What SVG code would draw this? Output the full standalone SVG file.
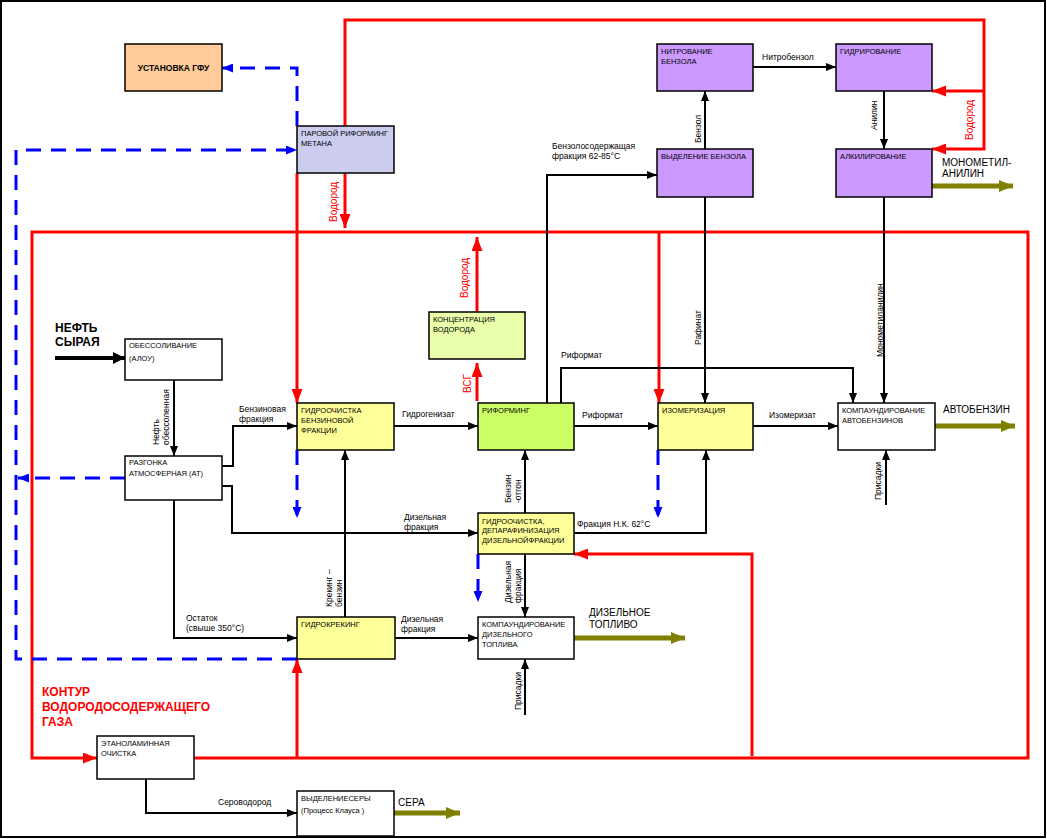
<svg xmlns="http://www.w3.org/2000/svg" width="1047" height="839" viewBox="0 0 1047 839">
<style>
text{font-family:"Liberation Sans",Arial,sans-serif;}
.box{stroke:#000;stroke-width:1.5;}
.n{font-size:7.5px;fill:#000;}
.l{font-size:8.5px;fill:#000;}
.r{font-size:10px;fill:#FF0000;}
.big{font-size:10px;fill:#000;}
.bk{fill:none;stroke:#000;stroke-width:2;marker-end:url(#aB);}
.rd{fill:none;stroke:#FF0000;stroke-width:3;}
.ra{marker-end:url(#aR);}
.bl{fill:none;stroke:#0000FF;stroke-width:3;stroke-dasharray:15 10;}
.ba{marker-end:url(#aBl);}
.ol{fill:none;stroke:#808000;stroke-width:5;marker-end:url(#aO);}
</style>
<defs>
<marker id="aB" viewBox="0 0 10 8" refX="10" refY="4" markerWidth="10" markerHeight="8" markerUnits="userSpaceOnUse" orient="auto"><path d="M0,0 L10,4 L0,8 z" fill="#000"/></marker>
<marker id="aK" viewBox="0 0 12 12" refX="12" refY="6" markerWidth="12" markerHeight="12" markerUnits="userSpaceOnUse" orient="auto"><path d="M0,0 L12,6 L0,12 z" fill="#000"/></marker>
<marker id="aR" viewBox="0 0 14 11" refX="14" refY="5.5" markerWidth="14" markerHeight="11" markerUnits="userSpaceOnUse" orient="auto"><path d="M0,0 L14,5.5 L0,11 z" fill="#FF0000"/></marker>
<marker id="aBl" viewBox="0 0 11 9" refX="11" refY="4.5" markerWidth="11" markerHeight="9" markerUnits="userSpaceOnUse" orient="auto"><path d="M0,0 L11,4.5 L0,9 z" fill="#0000FF"/></marker>
<marker id="aO" viewBox="0 0 14 12" refX="14" refY="6" markerWidth="14" markerHeight="12" markerUnits="userSpaceOnUse" orient="auto"><path d="M0,0 L14,6 L0,12 z" fill="#808000"/></marker>
</defs>
<rect x="0" y="0" width="1047" height="839" fill="#fff"/>
<rect x="1" y="1" width="1044" height="836" fill="none" stroke="#000" stroke-width="2"/>

<g id="connectors">
  <!-- red hydrogen contour -->
  <path class="rd ra" d="M194,758 H1028 V232 H32 V758 H97"/>
  <path class="rd ra" d="M345,126 V20 H984 V149 H932"/>
  <path class="rd ra" d="M984,91 H932"/>
  <path class="rd ra" d="M345,173 V228"/>
  <path class="rd ra" d="M297,173 V403"/>
  <path class="rd ra" d="M659,232 V403"/>
  <path class="rd ra" d="M477,401 V363"/>
  <path class="rd ra" d="M477,312 V237"/>
  <path class="rd ra" d="M752,756 V554 H574"/>
  <path class="rd ra" d="M297,758 V659"/>
  <!-- blue dashed -->
  <path class="bl ba" d="M297,126 V68 H222"/>
  <path class="bl ba" d="M297,659 H16 V150 H297"/>
  <path class="bl ba" d="M125,478 H18"/>
  <path class="bl ba" d="M297,450 V518"/>
  <path class="bl ba" d="M658,450 V518"/>
  <path class="bl ba" d="M478,554 V602"/>
  <!-- black -->
  <path d="M55,358 H125" fill="none" stroke="#000" stroke-width="4" marker-end="url(#aK)"/>
  <path class="bk" d="M174,380 V456"/>
  <path class="bk" d="M222,466 H233 V426 H297"/>
  <path class="bk" d="M222,486 H232 V533 H478"/>
  <path class="bk" d="M174,500 V638 H297"/>
  <path class="bk" d="M345,617 V450"/>
  <path class="bk" d="M395,638 H478"/>
  <path class="bk" d="M394,426 H478"/>
  <path class="bk" d="M574,426 H658"/>
  <path class="bk" d="M753,426 H838"/>
  <path class="bk" d="M547,403 V175 H657"/>
  <path class="bk" d="M561,403 V368 H853 V403"/>
  <path class="bk" d="M705,149 V91"/>
  <path class="bk" d="M753,67 H836"/>
  <path class="bk" d="M884,91 V149"/>
  <path class="bk" d="M705,197 V403"/>
  <path class="bk" d="M884,197 V403"/>
  <path class="bk" d="M886,505 V450"/>
  <path class="bk" d="M525,513 V450"/>
  <path class="bk" d="M574,533 H706 V450"/>
  <path class="bk" d="M525,554 V617"/>
  <path class="bk" d="M525,715 V659"/>
  <path class="bk" d="M146,779 V813 H297"/>
  <!-- olive products -->
  <path class="ol" d="M932,186 H1013"/>
  <path class="ol" d="M935,426 H1015"/>
  <path class="ol" d="M574,638 H685"/>
  <path class="ol" d="M394,813 H460"/>

  <!-- connector labels -->
  <text class="l" x="762" y="60">Нитробензол</text>
  <text class="l" x="552" y="149">Бензолосодержащая</text>
  <text class="l" x="552" y="159">фракция 62-85°С</text>
  <text class="l" transform="translate(701,143) rotate(-90)">Бензол</text>
  <text class="l" transform="translate(877,130) rotate(-90)">Анилин</text>
  <text class="l" transform="translate(701,345) rotate(-90)">Рафинат</text>
  <text class="l" transform="translate(883,357) rotate(-90)">Монометиланилин</text>
  <text class="l" transform="translate(881,500) rotate(-90)">Присадки</text>
  <text class="l" transform="translate(521,710) rotate(-90)">Присадки</text>
  <text class="l" transform="translate(511,503) rotate(-90)">Бензин<tspan x="0" dy="9.5">-отгон</tspan></text>
  <text class="l" transform="translate(511,603) rotate(-90)">Дизельная<tspan x="0" dy="9.5">фракция</tspan></text>
  <text class="l" transform="translate(159,445) rotate(-90)">Нефть<tspan x="0" dy="9.5">обессоленная</tspan></text>
  <text class="l" transform="translate(332,607) rotate(-90)">Крекинг –<tspan x="0" dy="9.5">бензин</tspan></text>
  <text class="l" x="239" y="412">Бензиновая</text>
  <text class="l" x="239" y="422">фракция</text>
  <text class="l" x="402" y="417">Гидрогенизат</text>
  <text class="l" x="404" y="520">Дизельная</text>
  <text class="l" x="404" y="530">фракция</text>
  <text class="l" x="561" y="358">Риформат</text>
  <text class="l" x="582" y="418">Риформат</text>
  <text class="l" x="769" y="418">Изомеризат</text>
  <text class="l" x="577" y="527">Фракция Н.К. 62°С</text>
  <text class="l" x="186" y="621">Остаток</text>
  <text class="l" x="186" y="631">(свыше 350°С)</text>
  <text class="l" x="401" y="622">Дизельная</text>
  <text class="l" x="401" y="632">фракция</text>
  <text class="l" x="218" y="805">Сероводород</text>
  <text class="r" transform="translate(337,222) rotate(-90)">Водород</text>
  <text class="r" transform="translate(468,298) rotate(-90)">Водород</text>
  <text class="r" transform="translate(471,393) rotate(-90)">ВСГ</text>
  <text class="r" transform="translate(973,140) rotate(-90)">Водород</text>
  <text class="big" x="942" y="166">МОНОМЕТИЛ-</text>
  <text class="big" x="942" y="177">АНИЛИН</text>
  <text class="big" x="943" y="413">АВТОБЕНЗИН</text>
  <text class="big" x="589" y="616">ДИЗЕЛЬНОЕ</text>
  <text class="big" x="589" y="628">ТОПЛИВО</text>
  <text class="big" x="398" y="806">СЕРА</text>
  <text x="55" y="332" font-size="12" font-weight="bold" fill="#000">НЕФТЬ</text>
  <text x="55" y="346" font-size="12" font-weight="bold" fill="#000">СЫРАЯ</text>
  <text x="42" y="696" font-size="12" font-weight="bold" fill="#FF0000">КОНТУР</text>
  <text x="42" y="711" font-size="12" font-weight="bold" fill="#FF0000">ВОДОРОДОСОДЕРЖАЩЕГО</text>
  <text x="42" y="726" font-size="12" font-weight="bold" fill="#FF0000">ГАЗА</text>
</g>

<g id="node-gfu"><rect class="box" x="125" y="44" width="97" height="47" fill="#FFCC99"/><text x="173.5" y="71" font-size="8.5" font-weight="bold" text-anchor="middle">УСТАНОВКА ГФУ</text></g>
<g id="node-steam"><rect class="box" x="297" y="126" width="97" height="47" fill="#CCCCEE"/><text class="n" x="301" y="136">ПАРОВОЙ РИФОРМИНГ</text><text class="n" x="301" y="146">МЕТАНА</text></g>
<g id="node-nitro"><rect class="box" x="657" y="44" width="96" height="47" fill="#CC99FF"/><text class="n" x="661" y="54">НИТРОВАНИЕ</text><text class="n" x="661" y="64">БЕНЗОЛА</text></g>
<g id="node-hydr"><rect class="box" x="836" y="44" width="96" height="47" fill="#CC99FF"/><text class="n" x="840" y="54">ГИДРИРОВАНИЕ</text></g>
<g id="node-benz"><rect class="box" x="657" y="149" width="96" height="48" fill="#CC99FF"/><text class="n" x="661" y="159">ВЫДЕЛЕНИЕ БЕНЗОЛА</text></g>
<g id="node-alk"><rect class="box" x="836" y="149" width="96" height="48" fill="#CC99FF"/><text class="n" x="840" y="159">АЛКИЛИРОВАНИЕ</text></g>
<g id="node-elou"><rect class="box" x="125" y="339" width="97" height="41" fill="#FFFFFF"/><text class="n" x="129" y="348">ОБЕССОЛИВАНИЕ</text><text class="n" x="129" y="361">(АЛОУ)</text></g>
<g id="node-at"><rect class="box" x="125" y="456" width="97" height="44" fill="#FFFFFF"/><text class="n" x="129" y="465">РАЗГОНКА</text><text class="n" x="129" y="476">АТМОСФЕРНАЯ (АТ)</text></g>
<g id="node-hgas"><rect class="box" x="297" y="403" width="97" height="47" fill="#FFFF99"/><text class="n" x="301" y="413">ГИДРООЧИСТКА</text><text class="n" x="301" y="423">БЕНЗИНОВОЙ</text><text class="n" x="301" y="433">ФРАКЦИИ</text></g>
<g id="node-conc"><rect class="box" x="429" y="312" width="96" height="47" fill="#EAFFAA"/><text class="n" x="433" y="322">КОНЦЕНТРАЦИЯ</text><text class="n" x="433" y="332">ВОДОРОДА</text></g>
<g id="node-reform"><rect class="box" x="478" y="403" width="96" height="47" fill="#CCFF66"/><text class="n" x="482" y="413">РИФОРМИНГ</text></g>
<g id="node-isom"><rect class="box" x="658" y="403" width="95" height="47" fill="#FFFF99"/><text class="n" x="662" y="413">ИЗОМЕРИЗАЦИЯ</text></g>
<g id="node-kgas"><rect class="box" x="838" y="403" width="97" height="47" fill="#FFFFFF"/><text class="n" x="842" y="413">КОМПАУНДИРОВАНИЕ</text><text class="n" x="842" y="423">АВТОБЕНЗИНОВ</text></g>
<g id="node-hdiesel"><rect class="box" x="478" y="513" width="96" height="41" fill="#FFFF99"/><text class="n" x="482" y="524">ГИДРООЧИСТКА,</text><text class="n" x="482" y="533">ДЕПАРАФИНИЗАЦИЯ</text><text class="n" x="482" y="543">ДИЗЕЛЬНОЙФРАКЦИИ</text></g>
<g id="node-hcrack"><rect class="box" x="297" y="617" width="98" height="42" fill="#FFFF99"/><text class="n" x="301" y="627">ГИДРОКРЕКИНГ</text></g>
<g id="node-kdiesel"><rect class="box" x="478" y="617" width="96" height="42" fill="#FFFFFF"/><text class="n" x="482" y="627">КОМПАУНДИРОВАНИЕ</text><text class="n" x="482" y="637">ДИЗЕЛЬНОГО</text><text class="n" x="482" y="647">ТОПЛИВА</text></g>
<g id="node-amine"><rect class="box" x="97" y="736" width="97" height="43" fill="#FFFFFF"/><text class="n" x="101" y="746">ЭТАНОЛАМИННАЯ</text><text class="n" x="101" y="756">ОЧИСТКА</text></g>
<g id="node-sulfur"><rect class="box" x="297" y="791" width="97" height="45" fill="#FFFFFF"/><text class="n" x="301" y="801">ВЫДЕЛЕНИЕСЕРЫ</text><text class="n" x="301" y="813">(Процесс Клауса )</text></g>
</svg>
